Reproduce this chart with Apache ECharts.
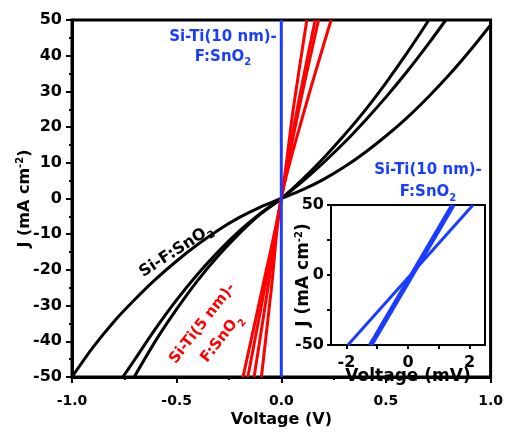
<!DOCTYPE html>
<html>
<head>
<meta charset="utf-8">
<script src="https://cdn.jsdelivr.net/npm/echarts@6/dist/echarts.min.js"></script>
<style>
html, body { margin: 0; padding: 0; background: #fff; }
#chart { width: 506px; height: 433px; }
</style>
</head>
<body>
<div id="chart"></div>
<script>
// Si-F:SnO2 curves (V, J)
const blackA = [[-0.703,-50],[-0.6,-39.8],[-0.5,-31],[-0.4,-23],[-0.3,-16],[-0.2,-9.8],[-0.1,-4.4],[0,0],
  [0.1,5.3],[0.2,11.2],[0.3,17.7],[0.4,24.7],[0.5,32.4],[0.6,40.7],[0.705,50]]
const blackB = [[-0.757,-50],[-0.7,-45.1],[-0.6,-36.4],[-0.5,-28.4],[-0.4,-21.2],[-0.3,-14.8],[-0.2,-9.1],[-0.1,-4.2],[0,0],
  [0.1,4.7],[0.2,9.95],[0.3,15.6],[0.4,21.8],[0.5,28.4],[0.6,35.5],[0.7,43.1],[0.786,50]]
const blackC = [[-1.0,-50],[-0.9,-41.7],[-0.8,-34.5],[-0.7,-28.3],[-0.6,-22.6],[-0.5,-17.5],[-0.4,-12.9],[-0.3,-8.8],[-0.2,-5.3],[-0.1,-2.4],[0,0],
  [0.1,2.4],[0.2,5.3],[0.3,8.8],[0.4,12.9],[0.5,17.5],[0.6,22.6],[0.7,28.3],[0.8,34.5],[0.9,41.3],[1.0,48.6]]

// Si-Ti(5 nm)-F:SnO2 curves
const red1 = [[-0.183,-50],[-0.09,-25],[0,0],[0.057,25],[0.122,50]]
const red2 = [[-0.16,-50],[-0.079,-25],[0,0],[0.076,25],[0.162,50]]
const red3 = [[-0.13,-50],[-0.064,-25],[0,0],[0.084,25],[0.178,50]]
const red4 = [[-0.095,-50],[-0.047,-25],[0,0],[0.112,25],[0.238,50]]

// Si-Ti(10 nm)-F:SnO2 on the main axes (V)
const blueMain = [[0,-50],[0,50]]

// inset, voltage in mV
const insetA = [[-1.95,-50],[2.11,50]]
const insetB1 = [[-1.25,-50],[1.42,50]]
const insetB2 = [[-1.17,-50],[1.50,50]]

const insetXLabels = [-2, 0, 2]
const insetXTicks = [-2, -1, 0, 1, 2]
const insetYLabels = [-50, 0, 50]
const insetYTicks = [-50, -25, 0, 25, 50]

const FONT = 'DejaVu Sans'
const BLUE = '#1a3cff'
const RED = '#ff0000'

const chart = echarts.init(document.getElementById('chart'))

function lineSeries(data, color, xi) {
  return {
    type: 'line',
    xAxisIndex: xi,
    yAxisIndex: xi,
    data: data,
    showSymbol: false,
    smooth: 0.3,
    silent: true,
    lineStyle: { color: color, width: 3 },
    z: xi === 1 ? 12 : 2
  }
}

const sub = { fontSize: 10, fontFamily: FONT, fontWeight: 'bold', verticalAlign: 'bottom' }
const sup = { fontSize: 10, fontFamily: FONT, fontWeight: 'bold', color: '#000', verticalAlign: 'top' }

const option = {
  animation: false,
  backgroundColor: '#fff',
  grid: [
    { left: 72, right: 14, top: 20, bottom: 48, show: true, borderColor: '#000', borderWidth: 3 },
    { left: 331, right: 21, top: 205, bottom: 88, show: true, borderColor: '#000', borderWidth: 2, backgroundColor: '#fff', z: 10 }
  ],
  xAxis: [
    {
      type: 'value', gridIndex: 0, min: -1, max: 1, interval: 0.5,
      axisLine: { onZero: false, lineStyle: { color: '#000', width: 3 } },
      axisTick: { inside: false, length: 6, lineStyle: { width: 2, color: '#000' } },
      minorTick: { show: true, splitNumber: 2, length: 3, lineStyle: { width: 2, color: '#000' } },
      splitLine: { show: false },
      axisLabel: { formatter: v => v.toFixed(1), fontFamily: FONT, fontWeight: 'bold', fontSize: 14, color: '#000', margin: 17 },
      name: 'Voltage (V)', nameLocation: 'middle', nameGap: 35, nameMoveOverlap: false,
      nameTextStyle: { fontFamily: FONT, fontWeight: 'bold', fontSize: 16, color: '#000' }
    },
    {
      type: 'value', gridIndex: 1, min: -2.5, max: 2.5, z: 12,
      axisLine: { onZero: false, lineStyle: { color: '#000', width: 2 } },
      axisTick: { inside: false, length: 4, customValues: insetXTicks, lineStyle: { width: 2, color: '#000' } },
      splitLine: { show: false },
      axisLabel: { customValues: insetXLabels, fontFamily: FONT, fontWeight: 'bold', fontSize: 16, color: '#000', margin: 10 },
      name: 'Voltage (mV)', nameLocation: 'middle', nameGap: 23, nameMoveOverlap: false,
      nameTextStyle: { fontFamily: FONT, fontWeight: 'bold', fontSize: 17, color: '#000' }
    }
  ],
  yAxis: [
    {
      type: 'value', gridIndex: 0, min: -50, max: 50, interval: 10,
      axisLine: { onZero: false, lineStyle: { color: '#000', width: 3 } },
      axisTick: { inside: false, length: 6, lineStyle: { width: 2, color: '#000' } },
      minorTick: { show: true, splitNumber: 2, length: 3, lineStyle: { width: 2, color: '#000' } },
      splitLine: { show: false },
      axisLabel: { fontFamily: FONT, fontWeight: 'bold', fontSize: 16, color: '#000', margin: 10 },
      name: 'J (mA cm{sup|-2})', nameLocation: 'middle', nameGap: 37, nameMoveOverlap: false,
      nameTextStyle: { fontFamily: FONT, fontWeight: 'bold', fontSize: 16, color: '#000', lineHeight: 20, rich: { sup: sup } }
    },
    {
      type: 'value', gridIndex: 1, min: -50, max: 50, z: 12,
      axisLine: { onZero: false, lineStyle: { color: '#000', width: 2 } },
      axisTick: { inside: false, length: 4, customValues: insetYTicks, lineStyle: { width: 2, color: '#000' } },
      splitLine: { show: false },
      axisLabel: { customValues: insetYLabels, fontFamily: FONT, fontWeight: 'bold', fontSize: 16, color: '#000', margin: 7 },
      name: 'J (mA cm{sup|-2})', nameLocation: 'middle', nameGap: 17, nameMoveOverlap: false,
      nameTextStyle: { fontFamily: FONT, fontWeight: 'bold', fontSize: 17, color: '#000', lineHeight: 20, rich: { sup: sup } }
    }
  ],
  series: [
    lineSeries(blackA, '#000', 0),
    lineSeries(blackB, '#000', 0),
    lineSeries(blackC, '#000', 0),
    lineSeries(red1, RED, 0),
    lineSeries(red2, RED, 0),
    lineSeries(red3, RED, 0),
    lineSeries(red4, RED, 0),
    lineSeries(blueMain, BLUE, 0),
    lineSeries(insetA, BLUE, 1),
    lineSeries(insetB1, BLUE, 1),
    lineSeries(insetB2, BLUE, 1)
  ],
  graphic: [
    {
      type: 'text', x: 223, y: 47, z: 20,
      style: {
        text: 'Si-Ti(10 nm)-\nF:SnO{s|2}', fill: BLUE,
        fontFamily: FONT, fontWeight: 'bold', fontSize: 15, lineHeight: 20,
        align: 'center', verticalAlign: 'middle',
        rich: { s: Object.assign({ fill: BLUE }, sub) }
      }
    },
    {
      type: 'text', x: 428, y: 181, z: 20,
      style: {
        text: 'Si-Ti(10 nm)-\nF:SnO{s|2}', fill: BLUE,
        fontFamily: FONT, fontWeight: 'bold', fontSize: 15, lineHeight: 22,
        align: 'center', verticalAlign: 'middle',
        rich: { s: Object.assign({ fill: BLUE }, sub) }
      }
    },
    {
      type: 'text', x: 176, y: 251, rotation: 33 * Math.PI / 180, z: 20,
      style: {
        text: 'Si-F:SnO{s|2}', fill: '#000',
        fontFamily: FONT, fontWeight: 'bold', fontSize: 16, lineHeight: 22,
        align: 'center', verticalAlign: 'middle',
        rich: { s: Object.assign({ fill: '#000' }, sub) }
      }
    },
    {
      type: 'text', x: 212, y: 331, rotation: 52 * Math.PI / 180, z: 20,
      style: {
        text: 'Si-Ti(5 nm)-\nF:SnO{s|2}', fill: RED,
        fontFamily: FONT, fontWeight: 'bold', fontSize: 15, lineHeight: 24,
        align: 'center', verticalAlign: 'middle',
        rich: { s: Object.assign({ fill: RED }, sub) }
      }
    }
  ]
}

chart.setOption(option)
</script>
</body>
</html>
